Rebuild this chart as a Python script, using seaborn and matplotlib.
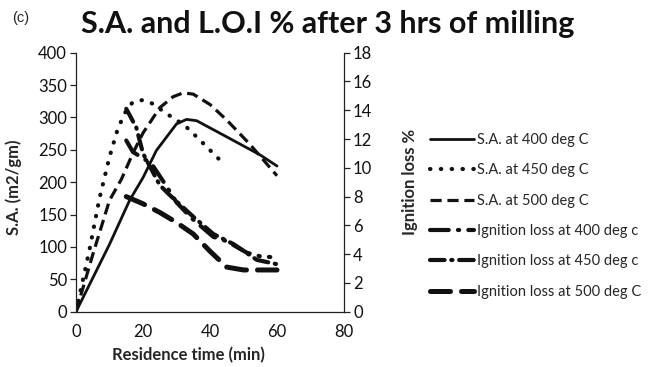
import matplotlib
matplotlib.use("Agg")
import matplotlib.pyplot as plt
import seaborn as sns
import pandas as pd

# Surface area (m2/gm) against residence time (min)
sa400_t = [0, 10, 16, 20, 24, 30, 33, 36, 45, 50, 55, 60]
sa400_v = [0, 104, 172, 207, 249, 290, 297, 295, 270, 256, 242, 225]

sa450_t = [0, 4, 7, 10, 12.5, 15, 17, 20, 23, 27, 30, 33, 37, 43]
sa450_v = [0, 95, 175, 239, 283, 311, 324, 327, 321, 306, 296, 285, 265, 234]

sa500_t = [0, 5, 10, 13.6, 17, 20, 25, 29, 32, 35, 40, 45, 52, 60]
sa500_v = [0, 88, 172, 205, 245, 276, 315, 332, 338, 336, 320, 296, 258, 210]

# Ignition loss (%) against residence time (min)
ig400_t = [15, 17, 22.5, 26.5, 30, 34.5, 41, 45, 51, 55, 58]
ig400_v = [11.9, 11.1, 10.3, 8.9, 7.6, 6.5, 5.2, 4.9, 4.1, 3.85, 3.8]

ig450_t = [15, 18, 20, 25, 28, 35, 41, 47, 54, 60]
ig450_v = [14.1, 12.8, 11.0, 8.8, 8.1, 6.6, 5.4, 4.7, 3.6, 3.3]

ig500_t = [15, 20, 25, 30, 35, 40, 45, 50, 55, 60]
ig500_v = [8.0, 7.5, 6.9, 6.2, 5.4, 4.2, 3.1, 2.9, 2.9, 2.9]

labels = ["S.A. at 400 deg C", "S.A. at 450 deg C", "S.A. at 500 deg C",
          "Ignition loss at 400 deg c", "Ignition loss at 450 deg c",
          "Ignition loss at 500 deg C"]

x_ticks = [0, 20, 40, 60, 80]
sa_ticks = list(range(0, 401, 50))
ig_ticks = list(range(0, 19, 2))

sns.set_style("white")
plt.rcParams["font.family"] = ["Lato", "DejaVu Sans"]

fig = plt.figure(figsize=(6.55, 3.67), dpi=100)
ax = fig.add_axes([76 / 655, 1 - 311.7 / 367, 268 / 655, 259 / 367])
ax2 = ax.twinx()

black = "#111111"
sa_series = [
    (sa400_t, sa400_v, dict(linestyle="-", linewidth=2.0)),
    (sa450_t, sa450_v, dict(linestyle=(0, (0.1, 2.5)), linewidth=3.0,
                            dash_capstyle="round")),
    (sa500_t, sa500_v, dict(linestyle=(0, (3.5, 1.8)), linewidth=2.3)),
]
ig_series = [
    (ig400_t, ig400_v, dict(linestyle=(0, (4.5, 2.2, 0.3, 2.2)), linewidth=3.0,
                            dash_capstyle="round")),
    (ig450_t, ig450_v, dict(linestyle=(0, (3.5, 1.6, 0.3, 1.6)), linewidth=3.0,
                            dash_capstyle="round")),
    (ig500_t, ig500_v, dict(linestyle=(0, (4.0, 2.2)), linewidth=3.6,
                            dash_capstyle="round")),
]

handles = []
for t, v, kw in sa_series:
    df = pd.DataFrame({"t": t, "v": v})
    sns.lineplot(data=df, x="t", y="v", ax=ax, color=black, sort=False, **kw)
    handles.append(ax.lines[-1])
for t, v, kw in ig_series:
    df = pd.DataFrame({"t": t, "v": v})
    sns.lineplot(data=df, x="t", y="v", ax=ax2, color=black, sort=False, **kw)
    handles.append(ax2.lines[-1])

ax.set_xlim(0, 80)
ax.set_ylim(0, 400)
ax2.set_ylim(0, 18)
ax.set_xticks(x_ticks)
ax.set_yticks(sa_ticks)
ax2.set_yticks(ig_ticks)

for a in (ax, ax2):
    a.spines["top"].set_visible(False)
    for s in a.spines.values():
        s.set_color("#222222")
        s.set_linewidth(0.9)
    a.tick_params(axis="both", direction="out", length=4.5, width=0.9,
                  color="#222222", labelsize=12, labelcolor="#111111", pad=2)
ax.tick_params(axis="x", pad=4)
ax.spines["right"].set_visible(False)
ax2.spines["left"].set_visible(False)
ax2.spines["bottom"].set_visible(False)

ax.set_xlabel("Residence time (min)", fontsize=12, fontweight="bold")
ax.set_ylabel("S.A. (m2/gm)", fontsize=12, fontweight="bold")
ax2.set_ylabel("Ignition loss %", fontsize=12, fontweight="bold")
ax.xaxis.set_label_coords((188 - 76) / 268, -0.135)
ax.yaxis.set_label_coords(-0.2, 0.48)
ax2.yaxis.set_label_coords(1.215, 0.5)

fig.text(0.5, 1 - 24 / 367, "S.A. and L.O.I % after 3 hrs of milling",
         ha="center", va="center", fontsize=22, fontweight="bold",
         color="#111111")
fig.text(12 / 655, 1 - 18 / 367, "(c)", ha="left", va="center",
         fontsize=10.5, family=["Liberation Sans", "DejaVu Sans"])

fig.legend(handles, labels, loc="upper left",
           bbox_to_anchor=(430 / 655, 1 - 133 / 367), frameon=False,
           fontsize=10.5, handlelength=3.0, handletextpad=0.25,
           labelspacing=1.12, borderpad=0, borderaxespad=0)

fig.savefig("out.png", dpi=100)
